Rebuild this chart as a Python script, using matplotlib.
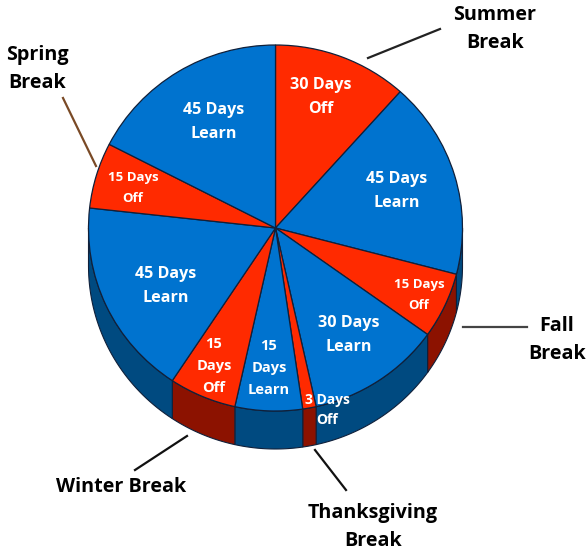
import numpy as np
import matplotlib
matplotlib.use('Agg')
from matplotlib import pyplot as plt
from matplotlib.patches import Polygon

plt.rcParams['font.family'] = ['Open Sans', 'DejaVu Sans']

days = [30, 45, 15, 30, 3, 15, 15, 45, 15, 45]
kinds = ['off', 'learn', 'off', 'learn', 'off', 'learn', 'off', 'learn', 'off', 'learn']
slice_labels = ['30 Days\nOff', '45 Days\nLearn', '15 Days\nOff', '30 Days\nLearn', '3 Days\nOff',
                '15\nDays\nLearn', '15\nDays\nOff', '45 Days\nLearn', '15 Days\nOff', '45 Days\nLearn']
label_xy = [(321, 97), (397, 191), (419, 295), (349, 335), (327, 410),
            (269, 368), (214, 366), (166, 286), (133, 188), (214, 122)]
label_size = [11.6, 11.6, 9.5, 11.6, 10, 10.5, 10.5, 11.6, 9.5, 11.6]
label_gap = [1.6, 1.6, 1.75, 1.6, 1.55, 1.75, 1.75, 1.6, 1.75, 1.6]

breaks = ['Summer\nBreak', 'Fall\nBreak', 'Thanksgiving\nBreak', 'Winter Break', 'Spring\nBreak']
break_xy = [(495, 29), (557, 340), (373, 527), (121, 487), (37, 69)]
leaders = [((368, 58), (440, 29), '#222222'),
           ((463, 327), (527, 327), '#444444'),
           ((315, 450), (346, 490), '#111111'),
           ((187, 436), (135, 470), '#111111'),
           ((96, 166), (63, 98), '#7a4a26')]

top_colors = {'off': '#ff2a00', 'learn': '#0073cf'}
side_colors = {'off': '#8c1200', 'learn': '#004a80'}

cx, cy = 275.5, 228
rx, ry = 187, 183
depth = 38

fig = plt.figure(figsize=(5.86, 5.56), dpi=100)
ax = fig.add_axes([0, 0, 1, 1])

# pie is unit circle, axes limits stretch it to the pixel ellipse
wedges, _ = ax.pie(days, startangle=90, counterclock=False,
                   colors=[top_colors[k] for k in kinds],
                   wedgeprops={'edgecolor': '#10203a', 'linewidth': 0.9, 'zorder': 3})
ax.set_aspect('auto')
ax.set_xlim(-cx / rx, (586 - cx) / rx)
ax.set_ylim((cy - 556) / ry, cy / ry)
ax.axis('off')

# side wall, only the part of the rim facing the viewer
dz = depth / ry
edges = np.cumsum([0] + days) / sum(days) * 360
for i, k in enumerate(kinds):
    a0 = max(edges[i], 90)
    a1 = min(edges[i + 1], 270)
    if a1 <= a0:
        continue
    t = np.radians(np.linspace(a0, a1, 40))
    x = np.sin(t)
    y = np.cos(t)
    pts = np.r_[np.c_[x, y], np.c_[x, y - dz][::-1]]
    ax.add_patch(Polygon(pts, closed=True, facecolor=side_colors[k],
                         edgecolor='#10203a', linewidth=0.8, zorder=1))

to_x = lambda px: (px - cx) / rx
to_y = lambda py: (cy - py) / ry

for s, (px, py), fs, gap in zip(slice_labels, label_xy, label_size, label_gap):
    ax.text(to_x(px), to_y(py), s, color='white', fontsize=fs, fontweight='bold',
            ha='center', va='center', linespacing=gap, zorder=5)

for s, (px, py) in zip(breaks, break_xy):
    ax.text(to_x(px), to_y(py), s, color='black', fontsize=14.2, fontweight='bold',
            ha='center', va='center', linespacing=1.5, zorder=5)

for (p0, p1, c) in leaders:
    ax.plot([to_x(p0[0]), to_x(p1[0])], [to_y(p0[1]), to_y(p1[1])],
            color=c, linewidth=1.6, zorder=2)

fig.savefig('out.png', dpi=100)
